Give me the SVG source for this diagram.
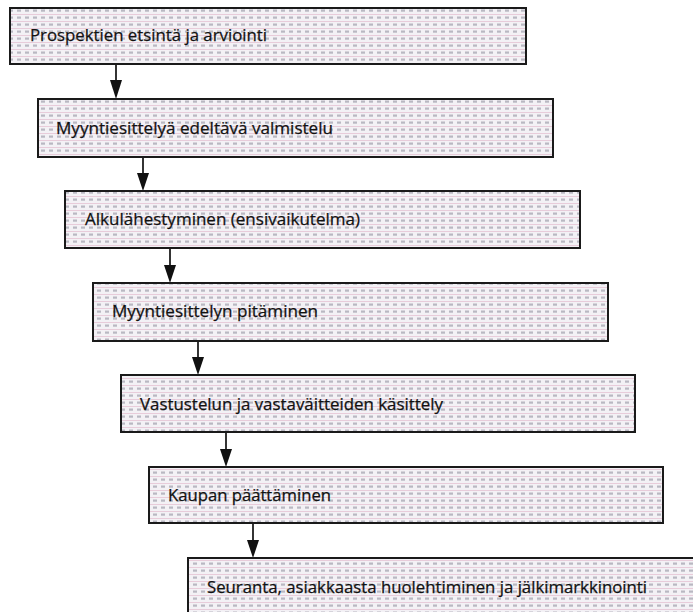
<svg xmlns="http://www.w3.org/2000/svg" width="693" height="612" viewBox="0 0 693 612">
<defs>
<pattern id="dots" width="8" height="7" patternUnits="userSpaceOnUse">
<rect width="8" height="7" fill="#f3f1f5"/>
<line x1="0" y1="0.5" x2="8" y2="0.5" stroke="#e8ccda" stroke-width="1"/>
<rect x="1" y="2.5" width="4" height="2.2" fill="#b9b8c2"/>
</pattern>
</defs>
<style>
.box{fill:url(#dots);stroke:#1a1a1a;stroke-width:2}
.lbl{font-family:"Open Sans","Noto Sans","Liberation Sans",sans-serif;font-size:16.5px;fill:#111;stroke:#111;stroke-width:0.25}
.con{stroke:#111;stroke-width:1.7;fill:none}
.head{fill:#111}
</style>
<rect width="693" height="612" fill="#ffffff"/>
<g id="connectors">
<line class="con" x1="116" y1="64" x2="116" y2="81"/>
<path class="head" d="M110,80 L122,80 L116,99 Z"/>
<line class="con" x1="143" y1="157" x2="143" y2="174"/>
<path class="head" d="M137,173 L149,173 L143,191 Z"/>
<line class="con" x1="170" y1="248" x2="170" y2="266"/>
<path class="head" d="M164,265 L176,265 L170,283 Z"/>
<line class="con" x1="198" y1="341" x2="198" y2="358"/>
<path class="head" d="M192,357 L204,357 L198,375 Z"/>
<line class="con" x1="226" y1="432" x2="226" y2="450"/>
<path class="head" d="M220,449 L232,449 L226,467 Z"/>
<line class="con" x1="253" y1="523" x2="253" y2="541"/>
<path class="head" d="M247,540 L259,540 L253,558 Z"/>
</g>
<g id="node1">
<rect class="box" x="10" y="8" width="516" height="56"/>
<text class="lbl" x="30" y="41" textLength="237" lengthAdjust="spacingAndGlyphs">Prospektien etsintä ja arviointi</text>
</g>
<g id="node2">
<rect class="box" x="38" y="99" width="515" height="58"/>
<text class="lbl" x="56" y="134" textLength="277" lengthAdjust="spacingAndGlyphs">Myyntiesittelyä edeltävä valmistelu</text>
</g>
<g id="node3">
<rect class="box" x="65" y="191" width="515" height="57"/>
<text class="lbl" x="85" y="225" textLength="275" lengthAdjust="spacingAndGlyphs">Alkulähestyminen (ensivaikutelma)</text>
</g>
<g id="node4">
<rect class="box" x="93" y="283" width="515" height="58"/>
<text class="lbl" x="112" y="317" textLength="206" lengthAdjust="spacingAndGlyphs">Myyntiesittelyn pitäminen</text>
</g>
<g id="node5">
<rect class="box" x="121" y="375" width="514" height="57"/>
<text class="lbl" x="140" y="410" textLength="303" lengthAdjust="spacingAndGlyphs">Vastustelun ja vastaväitteiden käsittely</text>
</g>
<g id="node6">
<rect class="box" x="149" y="467" width="514" height="56"/>
<text class="lbl" x="168" y="501" textLength="163" lengthAdjust="spacingAndGlyphs">Kaupan päättäminen</text>
</g>
<g id="node7">
<rect class="box" x="188" y="558" width="520" height="70"/>
<text class="lbl" x="207" y="593" textLength="440" lengthAdjust="spacingAndGlyphs">Seuranta, asiakkaasta huolehtiminen ja jälkimarkkinointi</text>
</g>
</svg>
